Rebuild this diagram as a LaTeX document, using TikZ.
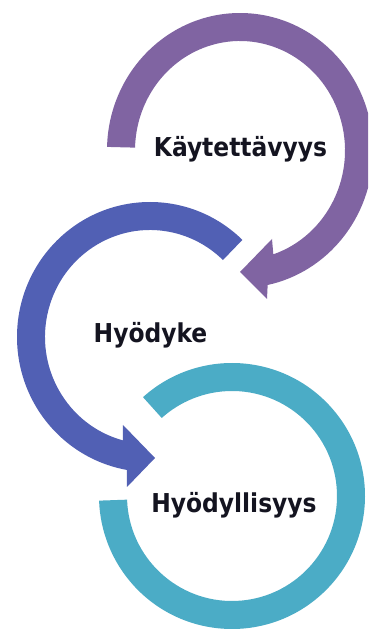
\documentclass[tikz,border=0pt]{standalone}
\usepackage{fontspec}
\usetikzlibrary{calc}
\newfontfamily\lblfont{DejaVu Sans Condensed}[BoldFont={DejaVu Sans Condensed Bold}]
\definecolor{purp}{HTML}{8064A2}
\definecolor{blu}{HTML}{5160B4}
\definecolor{tealc}{HTML}{4BACC6}
\definecolor{txt}{HTML}{141420}
\begin{document}
\begin{tikzpicture}[x=1pt,y=1pt,
  lbl/.style={font=\lblfont\bfseries\fontsize{26}{30}\selectfont, text=txt, inner sep=0pt, anchor=base}]
\useasboundingbox (0,0) rectangle (368,630);
\clip (0,0) rectangle (368,630);
\fill[white] (0,0) rectangle (368,630);
% centres
\coordinate (tc) at (232,134);
\coordinate (pc) at (240,479.5);
\coordinate (bc) at (150,293);
% teal ring (no arrow head)
\fill[tealc] ($(tc)+(132:133)$) arc[start angle=132, end angle=-178, radius=133]
  -- ($(tc)+(-178:105)$) arc[start angle=-178, end angle=132, radius=105] -- cycle;
% blue arrow
\fill[blu] ($(bc)+(46:133 and 135)$) arc[start angle=46, end angle=260, x radius=133, y radius=135]
  -- (127,143) -- (155,172) -- (123,205)
  -- ($(bc)+(255:105 and 107)$) arc[start angle=255, end angle=46, x radius=105, y radius=107] -- cycle;
% purple arrow
\fill[purp] ($(pc)+(178.5:133 and 137.5)$) arc[start angle=178.5, end angle=-78, x radius=133, y radius=137.5]
  -- (267,331) -- (240,358) -- (272,391)
  -- ($(pc)+(-71.5:105 and 109.5)$) arc[start angle=-71.5, end angle=178.5, x radius=105, y radius=109.5] -- cycle;
% labels
\node[lbl] (kay) at (240.5,473) {Käytettävyys};
\node[lbl] (hyo) at (150.5,287) {Hyödyke};
\node[lbl] (hyl) at (234,117) {Hyödyllisyys};
\end{tikzpicture}
\end{document}
